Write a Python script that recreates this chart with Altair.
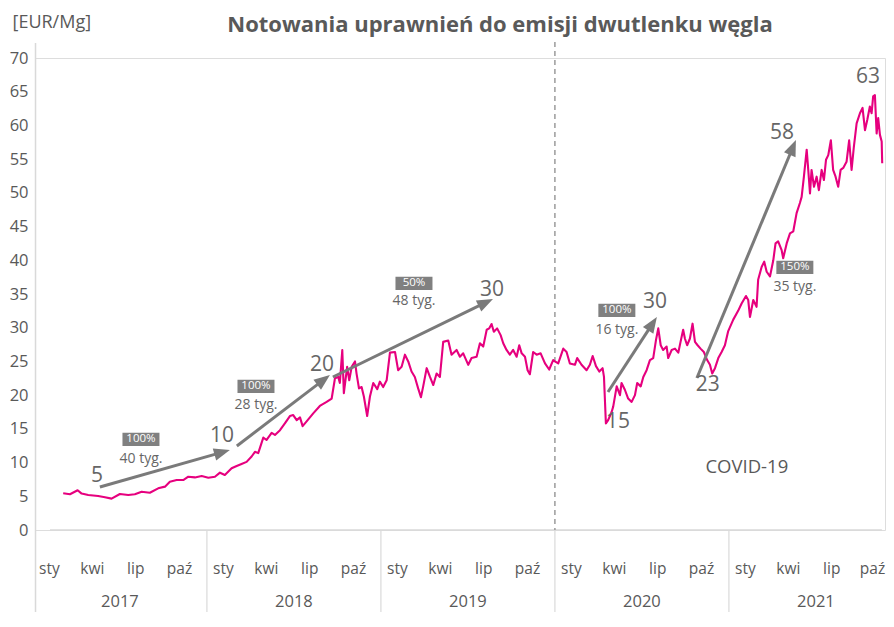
import math
import altair as alt
import pandas as pd

# ---------------- data ----------------
t_year = [
    2017.082, 2017.121, 2017.165, 2017.188, 2017.226, 2017.283, 2017.322, 2017.360, 2017.408, 2017.456,
    2017.494, 2017.533, 2017.580, 2017.628, 2017.667, 2017.695, 2017.734, 2017.772, 2017.801, 2017.839,
    2017.878, 2017.916, 2017.954, 2017.983, 2018.011, 2018.050, 2018.079, 2018.107, 2018.136, 2018.165,
    2018.184, 2018.203, 2018.232, 2018.251, 2018.280, 2018.299, 2018.328, 2018.356, 2018.385, 2018.404,
    2018.424, 2018.443, 2018.458, 2018.481, 2018.519, 2018.557, 2018.596, 2018.625, 2018.644, 2018.663,
    2018.672, 2018.686, 2018.695, 2018.714, 2018.726, 2018.740, 2018.759, 2018.768, 2018.782, 2018.797,
    2018.810, 2018.829, 2018.845, 2018.864, 2018.887, 2018.902, 2018.921, 2018.941, 2018.960, 2018.989,
    2019.007, 2019.027, 2019.046, 2019.065, 2019.084, 2019.103, 2019.122, 2019.138, 2019.151, 2019.171,
    2019.190, 2019.209, 2019.228, 2019.247, 2019.266, 2019.295, 2019.314, 2019.343, 2019.362, 2019.381,
    2019.410, 2019.429, 2019.458, 2019.477, 2019.496, 2019.516, 2019.530, 2019.544, 2019.557, 2019.576,
    2019.596, 2019.611, 2019.630, 2019.649, 2019.668, 2019.688, 2019.703, 2019.717, 2019.736, 2019.751,
    2019.764, 2019.783, 2019.803, 2019.826, 2019.851, 2019.875, 2019.898, 2019.908, 2019.927, 2019.956,
    2019.975, 2019.994, 2020.023, 2020.036, 2020.061, 2020.090, 2020.109, 2020.125, 2020.144, 2020.163,
    2020.182, 2020.190, 2020.201, 2020.214, 2020.234, 2020.243, 2020.263, 2020.282, 2020.291, 2020.310,
    2020.329, 2020.349, 2020.368, 2020.381, 2020.401, 2020.416, 2020.435, 2020.454, 2020.473, 2020.489,
    2020.502, 2020.516, 2020.530, 2020.550, 2020.559, 2020.579, 2020.598, 2020.617, 2020.630, 2020.645,
    2020.655, 2020.668, 2020.684, 2020.699, 2020.713, 2020.728, 2020.745, 2020.764, 2020.783, 2020.799,
    2020.812, 2020.828, 2020.847, 2020.866, 2020.885, 2020.904, 2020.933, 2020.961, 2020.981, 2021.006,
    2021.019, 2021.029, 2021.048, 2021.067, 2021.076, 2021.096, 2021.111, 2021.125, 2021.144, 2021.163,
    2021.176, 2021.191, 2021.211, 2021.220, 2021.240, 2021.259, 2021.278, 2021.297, 2021.316, 2021.326,
    2021.339, 2021.355, 2021.364, 2021.374, 2021.383, 2021.397, 2021.412, 2021.425, 2021.441, 2021.454,
    2021.466, 2021.479, 2021.494, 2021.507, 2021.521, 2021.536, 2021.550, 2021.565, 2021.584, 2021.599,
    2021.613, 2021.626, 2021.642, 2021.661, 2021.676, 2021.690, 2021.703, 2021.718, 2021.728, 2021.737,
    2021.747, 2021.757, 2021.766, 2021.776, 2021.786, 2021.789,
]
price = [
    5.44, 5.30, 5.90, 5.40, 5.20, 5.04, 4.85, 4.65, 5.34, 5.19,
    5.30, 5.68, 5.53, 6.18, 6.43, 7.16, 7.41, 7.41, 7.90, 7.80,
    8.00, 7.76, 7.90, 8.50, 8.16, 9.15, 9.50, 9.80, 10.10, 10.90,
    11.60, 11.40, 13.70, 13.35, 14.40, 14.10, 14.80, 15.80, 16.90, 17.05,
    16.30, 16.70, 15.40, 16.10, 17.30, 18.40, 19.00, 19.50, 22.50, 22.70,
    21.80, 26.70, 20.30, 24.20, 22.20, 24.20, 25.00, 23.20, 21.00, 21.20,
    19.80, 16.90, 19.80, 21.80, 20.90, 22.00, 21.20, 22.20, 26.30, 26.40,
    23.70, 24.20, 26.00, 25.00, 23.50, 22.70, 21.00, 19.70, 21.30, 24.00,
    22.70, 21.50, 23.20, 22.70, 27.90, 28.10, 26.00, 26.70, 25.70, 26.20,
    24.50, 25.50, 25.70, 27.70, 27.20, 29.70, 29.90, 30.55, 29.40, 29.90,
    28.90, 27.70, 26.70, 26.00, 26.70, 25.70, 27.40, 26.20, 25.70, 23.70,
    23.10, 26.40, 26.00, 26.20, 24.70, 23.80, 25.20, 25.00, 24.70, 26.90,
    26.40, 24.70, 24.50, 25.50, 24.50, 23.70, 24.50, 25.80, 24.30, 23.50,
    24.00, 22.70, 15.80, 16.30, 17.50, 18.30, 21.30, 20.00, 21.80, 20.80,
    19.50, 19.00, 20.00, 21.80, 21.30, 22.70, 23.70, 25.20, 25.50, 28.20,
    29.90, 27.40, 26.70, 27.20, 25.50, 26.70, 26.90, 26.30, 27.90, 29.70,
    28.40, 27.40, 28.40, 30.60, 27.90, 27.40, 26.90, 26.40, 25.20, 24.50,
    23.20, 24.00, 25.50, 26.40, 27.40, 29.50, 31.20, 32.50, 33.60, 34.70,
    34.10, 31.60, 34.10, 33.10, 37.10, 39.00, 39.80, 38.30, 37.60, 40.00,
    42.50, 42.80, 41.50, 40.30, 42.50, 44.00, 44.30, 47.00, 48.50, 49.40,
    52.40, 56.40, 53.40, 49.90, 53.40, 50.90, 52.40, 50.40, 53.40, 51.90,
    54.90, 55.60, 57.80, 53.40, 52.40, 50.90, 53.40, 53.70, 54.60, 57.80,
    53.40, 56.80, 60.30, 61.80, 62.60, 59.30, 60.80, 62.80, 61.80, 64.30,
    64.50, 58.80, 61.10, 58.60, 57.60, 54.40,
]

years = [2017, 2018, 2019, 2020, 2021]
month_names = ["sty", "kwi", "lip", "paź"]
month_offsets = [0.0, 0.2466, 0.4959, 0.7479]      # 1 Jan, 1 Apr, 1 Jul, 1 Oct
y_ticks = list(range(0, 75, 5))

# arrows: start (t, value) -> tip (t, value)
arrow_t0 = [2017.293, 2018.080, 2018.632, 2020.213, 2020.724]
arrow_v0 = [6.38, 12.46, 22.69, 20.47, 22.54]
arrow_t1 = [2018.040, 2018.615, 2019.552, 2020.494, 2021.293]
arrow_v1 = [11.86, 22.99, 34.26, 31.59, 57.84]

# level labels
level_text = ["5", "10", "20", "30", "15", "30", "23", "58", "63"]
level_t = [2017.276, 2017.994, 2018.569, 2019.546, 2020.270, 2020.483, 2020.787, 2021.213, 2021.707]
level_v = [8.0, 13.94, 24.47, 35.6, 16.0, 33.8, 21.5, 58.9, 67.2]

# growth badges
badge_text = ["100%", "100%", "50%", "100%", "150%"]
weeks_text = ["40 tyg.", "28 tyg.", "48 tyg.", "16 tyg.", "35 tyg."]
badge_t = [2017.529, 2018.190, 2019.098, 2020.264, 2021.287]
badge_v = [13.45, 21.3, 36.58, 32.58, 38.96]
weeks_v = [10.5, 18.5, 33.9, 29.6, 36.0]

covid_t, covid_v = 2021.011, 9.34

# ---------------- layout / style ----------------
W, H = 850, 472
X0 = 2016.92
X1 = X0 + W / 174.0
PXY = W / (X1 - X0)
PXV = H / 70.0
FONT = "Open Sans"
GRAY_TXT = "#595959"
ARROW = "#7a7a7a"
LINE_C = "#E6007E"
AXIS_C = "#d9d9d9"
BOTTOM = 82

xs = alt.Scale(domain=[X0, X1], nice=False, zero=False)
ys = alt.Scale(domain=[0, 70], nice=False, zero=True)

month_ticks = [y + m for y in years for m in month_offsets]
label_js = "[" + ",".join("'%s'" % m for m in month_names) + "]"
x_axis = alt.Axis(
    values=month_ticks,
    labelExpr=label_js + "[round((datum.value - floor(datum.value)) * 4) % 4]",
    title=None, grid=False, ticks=False, tickSize=0, domain=False,
    labelFont=FONT, labelFontSize=15.5, labelColor=GRAY_TXT,
    labelPadding=38, labelBaseline="middle", labelOverlap=False, labelFlush=False,
    labelOffset={"condition": {"test": "datum.value > 2021.7", "value": -3}, "value": 0},
)
y_axis = alt.Axis(
    values=y_ticks, title="[EUR/Mg]", grid=False, ticks=False, tickSize=0, domain=False,
    labelFont=FONT, labelFontSize=16.5, labelColor=GRAY_TXT, labelPadding=7,
    titleFont=FONT, titleFontSize=18, titleFontWeight="normal", titleColor=GRAY_TXT,
    titleAngle=0, titleX=-23, titleY=-36, titleAlign="left", titleBaseline="middle",
)

def X(field="t"):
    return alt.X(f"{field}:Q", scale=xs, axis=x_axis)

def Y(field="v"):
    return alt.Y(f"{field}:Q", scale=ys, axis=y_axis)

# main series
df = pd.DataFrame({"t": t_year, "v": price})
line = alt.Chart(df).mark_line(color=LINE_C, strokeWidth=2.1, strokeJoin="round").encode(x=X(), y=Y())

# frame elements
yaxis_line = alt.Chart(pd.DataFrame({"t": [X0 + 0.003]})).mark_rule(color=AXIS_C, strokeWidth=1.5).encode(
    x=X(), y=alt.value(-15), y2=alt.value(H + BOTTOM))
zero_line = alt.Chart(pd.DataFrame({"t": [2017.006], "t2": [2021.787], "v": [0]})).mark_rule(
    color=AXIS_C, strokeWidth=1.5).encode(x=X(), x2="t2:Q", y=Y())
sep_df = pd.DataFrame({"t": [y - 0.092 for y in years[1:]]})
separators = alt.Chart(sep_df).mark_rule(color=AXIS_C, strokeWidth=1.2).encode(
    x=X(), y=alt.value(H), y2=alt.value(H + BOTTOM))
covid_line = alt.Chart(pd.DataFrame({"t": [2020 - 0.092]})).mark_rule(
    color="#8c8c8c", strokeWidth=1.3, strokeDash=[5, 4]).encode(x=X(), y=alt.value(-16), y2=alt.value(H))

year_df = pd.DataFrame({"t": [y + 0.408 for y in years], "label": [str(y) for y in years]})
year_labels = alt.Chart(year_df).mark_text(font=FONT, fontSize=16.5, color=GRAY_TXT, baseline="middle").encode(
    x=X(), y=alt.value(H + 72), text="label:N")

title = alt.Chart(pd.DataFrame({"t": [X0]})).mark_text(
    font=FONT, fontSize=22, fontWeight="bold", color=GRAY_TXT, baseline="middle", align="center").encode(
    x=alt.value(465), y=alt.value(-33), text=alt.value("Notowania uprawnień do emisji dwutlenku węgla"))

# arrows
HEAD = 16.0
rows = []
for a, b, c, d in zip(arrow_t0, arrow_v0, arrow_t1, arrow_v1):
    dx = (c - a) * PXY
    dy = (d - b) * PXV
    ang = math.atan2(dx, dy)
    L = math.hypot(dx, dy)
    ux, uy = dx / L, dy / L
    rows.append({
        "t": a, "v": b,
        "t2": c - ux * (HEAD - 3) / PXY, "v2": d - uy * (HEAD - 3) / PXV,
        "th": c - ux * (HEAD / 2) / PXY, "vh": d - uy * (HEAD / 2) / PXV,
        "ang": math.degrees(ang),
    })
adf = pd.DataFrame(rows)
arrow_lines = alt.Chart(adf).mark_rule(color=ARROW, strokeWidth=3, strokeCap="butt").encode(
    x=X(), y=Y(), x2="t2:Q", y2="v2:Q")
arrow_heads = alt.Chart(adf).mark_point(
    shape="M0,-1L0.78,1L-0.78,1Z", filled=True, color=ARROW, opacity=1, size=HEAD * HEAD, strokeWidth=0).encode(
    x=X("th"), y=Y("vh"), angle=alt.Angle("ang:Q", scale=None))

# level numbers
ldf = pd.DataFrame({"t": level_t, "v": level_v, "label": level_text})
levels = alt.Chart(ldf).mark_text(font=FONT, fontSize=21, color="#666666", baseline="middle").encode(
    x=X(), y=Y(), text="label:N")

# badges
bdf = pd.DataFrame({"t": badge_t, "v": badge_v, "label": badge_text, "w": weeks_text, "vw": weeks_v})
badge_box = alt.Chart(bdf).mark_point(
    shape="M-1,-0.36L1,-0.36L1,0.36L-1,0.36Z", filled=True, color="#808080", opacity=1,
    size=37 * 37, strokeWidth=0).encode(x=X(), y=Y())
badge_txt = alt.Chart(bdf).mark_text(font=FONT, fontSize=11.5, color="white", baseline="middle").encode(
    x=X(), y=Y(), text="label:N")
weeks = alt.Chart(bdf).mark_text(font=FONT, fontSize=14, color="#666666", baseline="middle").encode(
    x=X(), y=Y("vw"), text="w:N")

covid = alt.Chart(pd.DataFrame({"t": [covid_t], "v": [covid_v], "label": ["COVID-19"]})).mark_text(
    font=FONT, fontSize=18.5, color=GRAY_TXT, baseline="middle").encode(x=X(), y=Y(), text="label:N")

chart = alt.layer(
    yaxis_line, zero_line, separators, covid_line, line,
    arrow_lines, arrow_heads, levels, badge_box, badge_txt, weeks, covid, year_labels, title,
).properties(
    width=W, height=H,
    autosize=alt.AutoSizeParams(type="none"),
    padding={"left": 27, "top": 50, "right": 1, "bottom": BOTTOM},
).configure_view(stroke=None).configure(background="white")

chart.save("out.html", embed_options={"renderer": "svg", "actions": False})
